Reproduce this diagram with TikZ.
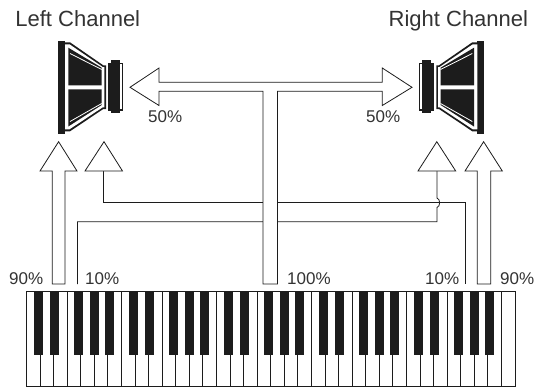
\documentclass[tikz,border=0pt]{standalone}
\usepackage{fontspec}
\setmainfont{Liberation Sans}
\definecolor{ink}{HTML}{1C1C1C}
\definecolor{txt}{HTML}{333333}
\tikzset{
  outlinearrow/.style={draw=ink,fill=white,line width=0.8pt,line join=miter},
  wire/.style={draw=ink,line width=0.8pt},
  lab/.style={anchor=base west,inner sep=0pt,text=txt,font=\fontsize{17}{17}\selectfont},
  title/.style={inner sep=0pt,text=txt,font=\fontsize{22}{22}\selectfont}
}
\newcommand{\speakershape}{%
  \fill[ink] (58.3,40.7) rectangle (65,133.5);
  \fill[ink] (65,42.3) -- (70,42.3) -- (103.3,65.3) -- (106,65.3) -- (106,109) -- (103.3,109) -- (70,131.3) -- (65,131.3) -- cycle;
  \fill[white] (65,44.3) -- (69.5,44.3) -- (102.7,67) -- (104.3,67) -- (104.3,107.3) -- (102.7,107.3) -- (69.5,129.3) -- (65,129.3) -- cycle;
  \fill[ink] (68.3,47.7) -- (101.7,67.7) -- (101.7,85.3) -- (68.3,85.3) -- cycle;
  \fill[ink] (68.3,89.3) -- (101.7,89.3) -- (101.7,105) -- (68.3,126.5) -- cycle;
  \draw[white,line width=0.8pt] (70,53.5) -- (101.7,69.5);
  \draw[white,line width=0.8pt] (70,121.5) -- (101.7,103.5);
  \fill[ink] (108.2,62.7) rectangle (123.3,110.5);
  \fill[white] (120.2,64) rectangle (122.3,109.2);
  \fill[ink] (111,60.3) rectangle (120.2,112.7);
}
\begin{document}
\begin{tikzpicture}[x=1pt,y=-1pt]
\useasboundingbox[fill=white] (0,0) rectangle (536,389);
% speakers
\begin{scope}
\speakershape
\end{scope}
\begin{scope}[cm={-1,0,0,1,(542.3pt,0pt)}]
\speakershape
\end{scope}
% wires from the keyboard
\coordinate (wa) at (77.5,284);
\coordinate (wb) at (77.5,221.7);
\coordinate (wc) at (437,221.7);
\coordinate (wd) at (437,171);
\coordinate (we) at (103.5,171);
\coordinate (wf) at (103.5,202.7);
\coordinate (wg) at (465,202.7);
\coordinate (wh) at (465,284);
\draw[wire] (we) -- (wf) -- (wg) -- (wh);
\draw[wire] (wa) -- (wb) -- (wc) -- (437,207.5) .. controls (440.5,206.5) and (440.5,199) .. (437,198) -- (wd);
% triangles
\draw[outlinearrow] (85,171) -- (104,141.7) -- (122.5,171) -- cycle;
\draw[outlinearrow] (418,171) -- (436.8,141.7) -- (455.7,171) -- cycle;
% tall up arrows
\draw[outlinearrow] (52.3,284) -- (52.3,171) -- (40,171) -- (58.6,141.7) -- (77,171) -- (65,171) -- (65,284) -- cycle;
\draw[outlinearrow] (477.3,284) -- (477.3,171) -- (465,171) -- (483.6,141.7) -- (502.3,171) -- (490.7,171) -- (490.7,284) -- cycle;
% central double arrow
\draw[outlinearrow] (130,87.3) -- (159,68) -- (159,82.3) -- (382.3,82.3) -- (382.3,68) -- (412,87.3) -- (382.3,105.5) -- (382.3,91.3) -- (277.5,91.3) -- (277.5,284) -- (263,284) -- (263,91.3) -- (159,91.3) -- (159,105.5) -- cycle;
% keyboard
\draw[ink,line width=0.9pt] (26.5,291) rectangle (515,386.5);
\foreach \i in {1,...,35}{
  \draw[ink,line width=0.9pt] ({26.5+13.57*\i},291) -- ({26.5+13.57*\i},386.5);
}
\foreach \o in {0,...,4}{
  \foreach \c in {38.5,54.5,78.5,94,109.5}{
    \fill[ink] ({\c+95*\o-4.5},291) rectangle ({\c+95*\o+4.5},355);
  }
}
% labels
\node[title,anchor=base west] (tL) at (15.2,26) {Left Channel};
\node[title,anchor=base east] (tR) at (528.3,26) {Right Channel};
\node[lab] (p50L) at (148,122) {50\%};
\node[lab] (p50R) at (366,122) {50\%};
\node[lab] (p90L) at (9,284) {90\%};
\node[lab] (p10L) at (85,284) {10\%};
\node[lab] (p100) at (287,284) {100\%};
\node[lab] (p10R) at (425,284) {10\%};
\node[lab] (p90R) at (500,284) {90\%};
\end{tikzpicture}
\end{document}
